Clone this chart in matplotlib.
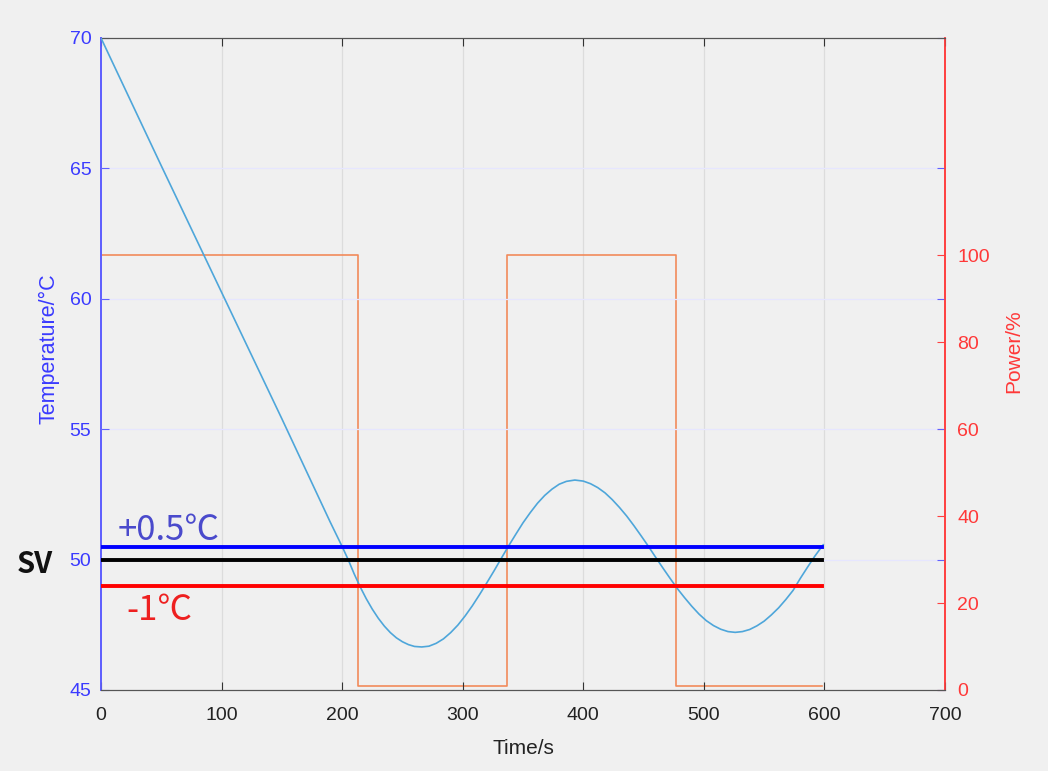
import matplotlib
matplotlib.use("Agg")
import matplotlib.pyplot as plt

# ---- data ----
time_s = [0, 50, 100, 150, 190, 200, 205, 210, 215, 220, 225, 230, 235, 240, 245, 250, 255, 260, 266,
          272, 278, 284, 290, 296, 302, 308, 314, 320, 326, 332, 338, 344, 350, 356, 362, 368, 374,
          380, 386, 393, 400, 406, 412, 418, 424, 430, 436, 442, 448, 454, 460, 466, 472, 478, 484,
          490, 496, 502, 508, 514, 520, 526, 532, 538, 544, 550, 556, 562, 568, 574, 580, 586, 592, 599]
temp_c = [70, 65.1, 60.25, 55.4, 51.45, 50.5, 50.0, 49.45, 48.95, 48.5, 48.1, 47.75, 47.45, 47.2, 47.0, 46.85, 46.74, 46.67, 46.65,
          46.68, 46.79, 46.96, 47.2, 47.49, 47.84, 48.23, 48.66, 49.11, 49.57, 50.05, 50.52, 50.97, 51.41, 51.8, 52.16, 52.46, 52.7,
          52.89, 53.0, 53.05, 53.01, 52.91, 52.76, 52.56, 52.3, 52.0, 51.67, 51.3, 50.91, 50.51, 50.09, 49.68, 49.28, 48.89, 48.54,
          48.21, 47.91, 47.66, 47.47, 47.33, 47.24, 47.21, 47.24, 47.32, 47.46, 47.64, 47.88, 48.15, 48.47, 48.82, 49.28, 49.71, 50.13, 50.57]

power_t = [0, 213, 213, 337, 337, 477, 477, 598]
power_p = [100, 100, 1, 1, 100, 100, 1, 1]

sv = 50
upper = 50.5
lower = 49
band_t = [0, 598]

x_ticks = [0, 100, 200, 300, 400, 500, 600, 700]
temp_ticks = [45, 50, 55, 60, 65, 70]
power_ticks = [0, 20, 40, 60, 80, 100]

# ---- style ----
BLUE_TXT = "#3a3aff"
RED_TXT = "#ff3838"
tick_font = "Liberation Sans"

fig = plt.figure(figsize=(10.48, 7.71), dpi=100, facecolor="#f0f0f0")
ax = fig.add_axes([101/1048, 1-690/771, (945-101)/1048, (690-38)/771])

ax.set_xlim(0, 700)
ax.set_ylim(45, 70)
ax.set_xticks(x_ticks)
ax.set_yticks(temp_ticks)

ax2 = ax.twinx()
ax2.set_ylim(0, 150)
ax2.set_yticks(power_ticks)
ax2.set_facecolor("#fafafa")

# grid (drawn on the back axes)
for xv in x_ticks[1:-1]:
    ax2.axvline(xv, color="#dcdcdc", lw=0.9, zorder=0)
for yv in temp_ticks[1:-1]:
    ax.axhline(yv, color="#e6e6ff", lw=0.9, zorder=0)

# power
ax2.plot(power_t, power_p, color="#f28a5a", lw=1.2, zorder=2)

# temperature
ax.plot(time_s, temp_c, color="#4ea6da", lw=1.2, zorder=3)
ax.plot(band_t, [upper, upper], color="#0000ff", lw=2.8, zorder=4)
ax.plot(band_t, [sv, sv], color="#000000", lw=2.8, zorder=4)
ax.plot(band_t, [lower, lower], color="#ff0000", lw=2.8, zorder=4)
ax.set_zorder(ax2.get_zorder() + 1)
ax.patch.set_visible(False)

# spines
for a in (ax, ax2):
    a.spines["top"].set_color("#555555")
    a.spines["bottom"].set_color("#555555")
    a.spines["left"].set_color("#6060ff")
    a.spines["right"].set_color("#ff4040")
    a.spines["left"].set_linewidth(1.3)
    a.spines["right"].set_linewidth(1.2)

ax.tick_params(axis="y", direction="in", length=6, colors="#6060ff", labelcolor=BLUE_TXT,
               labelsize=14, right=True, pad=7)
ax.tick_params(axis="x", direction="in", length=6, color="#333333", labelcolor="#222222",
               labelsize=14, top=True, pad=12)
ax2.tick_params(axis="y", direction="in", length=6, colors="#ff4040", labelcolor=RED_TXT,
                labelsize=14, pad=9)
for lab in ax.get_xticklabels() + ax.get_yticklabels() + ax2.get_yticklabels():
    lab.set_fontfamily(tick_font)

ax.set_xlabel("Time/s", fontsize=15, color="#222222", family=tick_font)
ax.set_ylabel("Temperature/°C", fontsize=15.5, color=BLUE_TXT, family=tick_font)
ax2.set_ylabel("Power/%", fontsize=15, color=RED_TXT, family=tick_font)
ax.xaxis.set_label_coords(0.5, -0.075)
ax.yaxis.set_label_coords(-0.049, 0.524)
ax2.yaxis.set_label_coords(1.070, 0.52)

cjk = ["Noto Sans CJK SC", "DejaVu Sans"]
fig.text(118/1048, 1-530/771, "+0.5℃", fontsize=25, color="#4a4acc", family=cjk, va="center")
fig.text(126/1048, 1-611/771, "-1℃", fontsize=25, color="#ee2020", family=cjk, va="center")
fig.text(17/1048, 1-564/771, "SV", fontsize=21, color="#111111", family=cjk,
         weight="bold", va="center")

fig.savefig("out.png", dpi=100, facecolor=fig.get_facecolor())
